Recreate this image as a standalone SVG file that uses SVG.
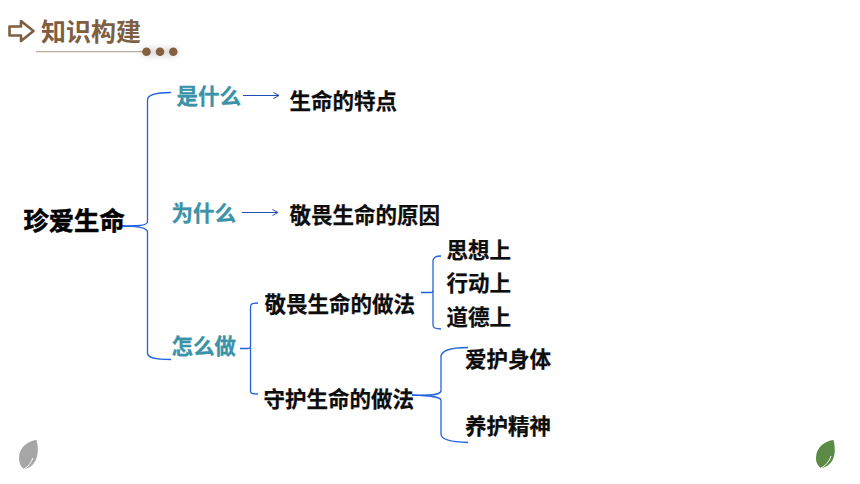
<svg xmlns="http://www.w3.org/2000/svg" width="860" height="484" viewBox="0 0 860 484">
<defs>
<style>
text{font-family:"Noto Sans CJK SC","Noto Sans",sans-serif;font-weight:700}
.k{fill:#0d0d0d;font-size:21.5px;stroke:#0d0d0d;stroke-width:.25}
.t{fill:#3a93a8;font-size:21.5px;stroke:#3a93a8;stroke-width:.3}
.c{fill:none;stroke:#2362de;stroke-width:1.3}
.a{fill:none;stroke:#1f4fb5;stroke-width:1.1}
</style>
<marker id="arr" markerWidth="8" markerHeight="8" refX="6.5" refY="3.5" orient="auto" markerUnits="userSpaceOnUse"><path d="M1 0.500L6.500 3.500L1 6.500" fill="none" stroke="#1f4fb5" stroke-width="1"/></marker>
<filter id="sh" x="-30%" y="-100%" width="160%" height="300%"><feGaussianBlur stdDeviation="3"/></filter>
</defs>
<rect width="860" height="484" fill="#fff"/>
<g id="header">
<path d="M9.500 26.500H21V21L33.500 31L21 41V35.500H9.500Z" fill="none" stroke="#7f5f42" stroke-width="2.600" stroke-linejoin="round"/>
<text x="41" y="41" font-size="25px" fill="#7f5f42">知识构建</text>
<line x1="36" y1="51.700" x2="144" y2="51.700" stroke="#bcaa98" stroke-width="1.200"/>
<rect x="142" y="48" width="36" height="8" fill="#000" opacity=".14" filter="url(#sh)"/>
<circle cx="146.500" cy="51.700" r="4.300" fill="#85603f"/><circle cx="160" cy="51.700" r="4.300" fill="#85603f"/><circle cx="173.300" cy="51.700" r="4.300" fill="#85603f"/>
</g>
<g id="connectors">
<path class="c" d="M122 226C136 226 147 226 147.500 222V100C147.500 95 155 92.500 171 92.500"/>
<path class="c" d="M122 226C136 226 147 227 147.500 232V353C147.500 358 155 359.500 171 359.500"/>
<path class="c" d="M240 348.500H247C249 348.500 250.500 348 250.500 346V307C250.500 304 252 303 258 303"/>
<path class="c" d="M250.500 348V391C250.500 393.500 252 394 258 394"/>
<path class="a" d="M243 95.500H279" marker-end="url(#arr)"/>
<path class="a" d="M242 212.500H278" marker-end="url(#arr)"/>
<path class="c" d="M421 292.500H431C432.500 292.500 433 292 433 290V261C433 257.500 435 256 441 256"/>
<path class="c" d="M433 291V325C433 328 435 329 441 329"/>
<path class="c" d="M412 395C425 395.500 440 396 441 391V357C441 351 450 347.500 468 347.500"/>
<path class="c" d="M412 395C425 395.500 440 396 441 400V434C441 439 450 442 468 442.500"/>
</g>
<g id="n1"><text x="23.500" y="229.500" font-size="25.300px" fill="#000" stroke="#000" stroke-width=".55">珍爱生命</text></g>
<g id="n2"><text class="t" x="176.500" y="104">是什么</text></g>
<g id="n3"><text class="t" x="171.500" y="221">为什么</text></g>
<g id="n4"><text class="t" x="171.500" y="354">怎么做</text></g>
<g id="n5"><text class="k" x="289.500" y="109">生命的特点</text></g>
<g id="n6"><text class="k" x="289.500" y="223">敬畏生命的原因</text></g>
<g id="n7"><text class="k" x="264.500" y="312">敬畏生命的做法</text></g>
<g id="n8"><text class="k" x="263.500" y="407">守护生命的做法</text></g>
<g id="n9"><text class="k" x="446.500" y="258">思想上</text></g>
<g id="n10"><text class="k" x="446.500" y="291">行动上</text></g>
<g id="n11"><text class="k" x="446.500" y="325">道德上</text></g>
<g id="n12"><text class="k" x="465" y="367">爱护身体</text></g>
<g id="n13"><text class="k" x="465" y="434">养护精神</text></g>
<g id="leaves">
<path d="M36.500 440C28 441 19 447 19 458C19 463 21 467 24 469C33 468 41 458 36.500 440Z" fill="#a6a6a6"/>
<path d="M24 469C28 467 31 463 33 458" fill="none" stroke="#fff" stroke-width="1"/>
<path d="M833.500 440C825 441 816 447 816 458C816 463 818 466 821 468C830 467 838 458 833.500 440Z" fill="#5b8b45"/>
<path d="M821 468C825 466 829 462 831 456" fill="none" stroke="#fff" stroke-width="1"/>
</g>
</svg>
